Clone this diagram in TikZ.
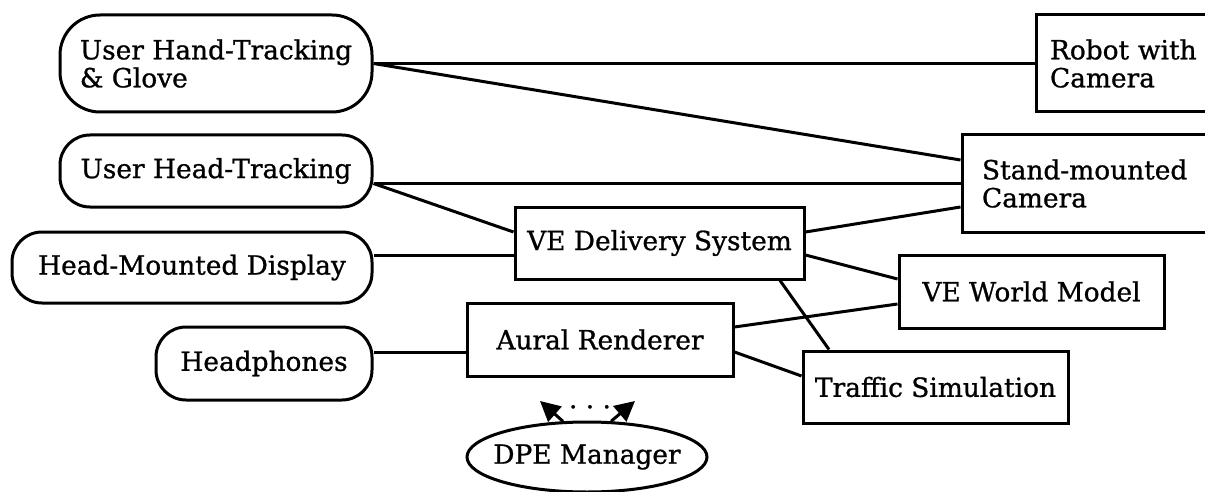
\documentclass[tikz,border=0pt]{standalone}
\usepackage{fontspec}
\setmainfont{DejaVu Serif}[FakeBold=0.9]
\usetikzlibrary{shapes.geometric,arrows.meta}

\tikzset{
  unit/.style={draw, line width=1.5pt, font=\fontsize{13.2}{14}\selectfont, inner sep=0pt},
  softbox/.style={unit, rounded corners=15pt},
  hardbox/.style={unit},
  wire/.style={line width=1.5pt},
  pointer/.style={line width=1.5pt, -{Triangle[length=10pt,width=10pt]}},
}

\begin{document}
\begin{tikzpicture}[x=0.5pt, y=-0.5pt]
  \clip (0,0) rectangle (1205,492);
  \fill[white] (0,0) rectangle (1205,492);

  % users' devices (left column)
  \node[softbox, rounded corners=20pt, minimum width=156pt, minimum height=48.5pt,
        align=left] (hand) at (216,63.5)
        {User Hand-Tracking\\\& Glove};
  \node[softbox, minimum width=156pt, minimum height=36pt] (headtr) at (216,171)
        {User Head-Tracking};
  \node[softbox, minimum width=180pt, minimum height=35.5pt] (hmd) at (192,267.5)
        {Head-Mounted Display};
  \node[softbox, minimum width=108pt, minimum height=36.5pt] (phones) at (264,363.5)
        {Headphones};

  % processing units
  \node[hardbox, minimum width=144.5pt, minimum height=36pt] (ved) at (659.5,243)
        {VE Delivery System};
  \node[hardbox, minimum width=133pt, minimum height=36.5pt] (aural) at (600,339.5)
        {Aural Renderer};
  \node[hardbox, minimum width=132.5pt, minimum height=36.5pt] (world) at (1031.5,291.5)
        {VE World Model};
  \node[hardbox, minimum width=132.5pt, minimum height=36pt] (traffic) at (935.5,387)
        {Traffic Simulation};

  % remote cameras (running off the right edge)
  \node[hardbox, minimum height=48.5pt, text width=119pt, inner xsep=10pt,
        align=left] (stand) at (1101,183.5)
        {Stand-mounted\\Camera};
  \node[hardbox, minimum height=48.5pt, text width=86.5pt, inner xsep=7pt,
        align=left] (robot) at (1136.5,63.5)
        {Robot with\\Camera};

  % manager (negative x padding keeps the ellipse at its minimum size)
  \node[unit, ellipse, inner xsep=-14pt, minimum width=120pt, minimum height=35pt]
        (dpe) at (587,457) {DPE Manager};
  \coordinate (tipL) at (540,401);
  \coordinate (tipR) at (635,401);
  \node[font=\fontsize{13.2}{14}\selectfont, anchor=base, inner sep=0pt] (dots)
        at (590,416) {· · ·};

  % connections
  \draw[wire] (hand.east) -- (robot.west);
  \draw[wire] (hand.east) -- (stand.west |- 0,160);
  \draw[wire] (headtr.east |- stand.west) -- (stand.west);
  \draw[wire] (headtr.east |- stand.west) -- (ved.west |- 0,232);
  \draw[wire] (hmd.east |- 0,255) -- (ved.west |- 0,255);
  \draw[wire] (phones.east |- 0,352) -- (aural.west |- 0,352);
  \draw[wire] (ved.east |- 0,232) -- (stand.west |- 0,207);
  \draw[wire] (ved.east |- 0,255) -- (world.west |- 0,279);
  \draw[wire] (ved.south -| 780,0) -- (traffic.north -| 829,0);
  \draw[wire] (aural.east |- 0,327) -- (world.west |- 0,304);
  \draw[wire] (aural.east |- 0,352) -- (traffic.west |- 0,376);

  \draw[pointer] (dpe.124) -- (tipL);
  \draw[pointer] (dpe.56) -- (tipR);
\end{tikzpicture}
\end{document}
